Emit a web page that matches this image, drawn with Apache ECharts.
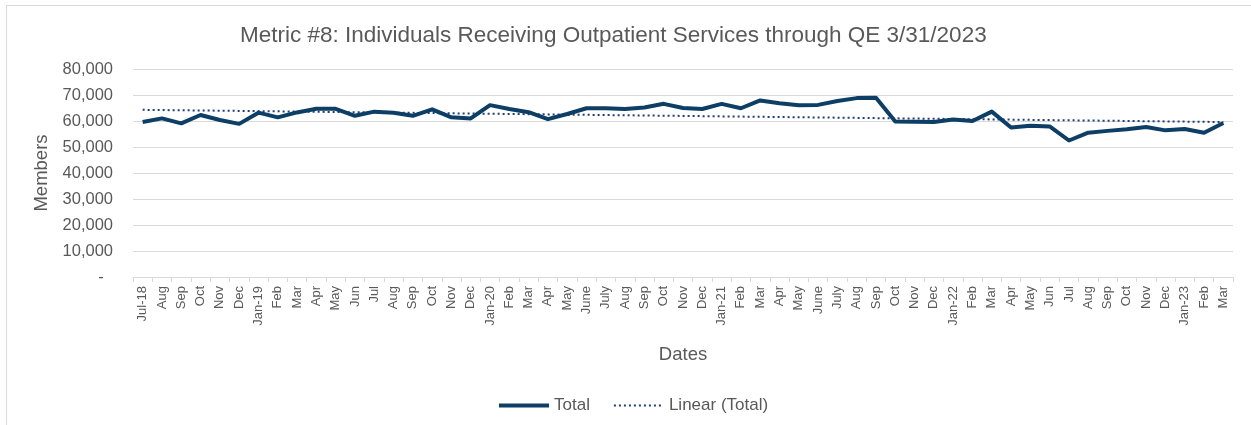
<!DOCTYPE html>
<html>
<head>
<meta charset="utf-8">
<script src="https://cdn.jsdelivr.net/npm/echarts@6/dist/echarts.min.js"></script>
<style>
  html, body { margin: 0; padding: 0; background: #fff; overflow: hidden; }
  #frame {
    position: absolute; left: 6px; top: 5px; width: 1300px; height: 480px;
    border: 1px solid #d9d9d9; box-sizing: border-box;
  }
  #main { position: absolute; left: 0; top: 0; width: 1251px; height: 425px; }
</style>
</head>
<body>
<div id="frame"></div>
<div id="main"></div>
<script>
var months = ["Jul-18", "Aug", "Sep", "Oct", "Nov", "Dec",
  "Jan-19", "Feb", "Mar", "Apr", "May", "Jun", "Jul", "Aug", "Sep", "Oct", "Nov", "Dec",
  "Jan-20", "Feb", "Mar", "Apr", "May", "June", "July", "Aug", "Sep", "Oct", "Nov", "Dec",
  "Jan-21", "Feb", "Mar", "Apr", "May", "June", "July", "Aug", "Sep", "Oct", "Nov", "Dec",
  "Jan-22", "Feb", "Mar", "Apr", "May", "Jun", "Jul", "Aug", "Sep", "Oct", "Nov", "Dec",
  "Jan-23", "Feb", "Mar"];

var total = [59600, 61000, 59100, 62300, 60400, 58900,
  63200, 61400, 63300, 64700, 64700, 62000, 63600, 63200, 62000, 64500, 61400, 61000,
  66100, 64600, 63400, 60700, 62700, 64900, 64900, 64600, 65200, 66600, 65000, 64600,
  66600, 64900, 67900, 66800, 66100, 66200, 67700, 68800, 68900, 59800, 59700, 59600,
  60600, 60000, 63600, 57500, 58200, 57900, 52500, 55500, 56200, 56800, 57700, 56400,
  56900, 55500, 59200];

// trend line ends (first and last month)
var trendStart = 64300;
var trendEnd = 59600;

var textColor = "#595959";
var font = "Liberation Sans, Arial, sans-serif";
var lineColor = "#0c3e66";
var trendColor = "#1f3d78";

var myChart = echarts.init(document.getElementById("main"));
var option = {
  animation: false,
  textStyle: { fontFamily: font, color: textColor },
  title: {
    text: "Metric #8: Individuals Receiving Outpatient Services through QE 3/31/2023",
    left: 235,
    top: 19,
    textStyle: { fontFamily: font, color: textColor, fontSize: 22.5, fontWeight: "normal" }
  },
  legend: {
    bottom: 6,
    left: 492,
    itemWidth: 50,
    itemHeight: 10,
    itemGap: 23,
    itemStyle: { color: "transparent", borderWidth: 0 },
    textStyle: { fontFamily: font, color: textColor, fontSize: 17 },
    data: [
      { name: "Total", lineStyle: { width: 4, color: lineColor } },
      { name: "Linear (Total)", lineStyle: { width: 2, color: trendColor, type: [2, 3] } }
    ]
  },
  grid: { left: 133, right: 18, top: 69, bottom: 148 },
  xAxis: {
    type: "category",
    data: months,
    name: "Dates",
    nameLocation: "middle",
    nameGap: 68,
    nameTextStyle: { fontFamily: font, color: textColor, fontSize: 18.5 },
    axisLine: { lineStyle: { color: "#d9d9d9" } },
    axisTick: { show: true, length: 5, interval: 0, lineStyle: { color: "#d9d9d9" } },
    axisLabel: { interval: 0, rotate: 90, fontSize: 13, color: textColor, fontFamily: font, margin: 9 },
    splitLine: { show: false }
  },
  yAxis: {
    type: "value",
    min: 0,
    max: 80000,
    interval: 10000,
    name: "Members",
    nameLocation: "middle",
    nameGap: 82,
    nameTextStyle: { fontFamily: font, color: textColor, fontSize: 18.5 },
    axisLine: { show: false },
    axisTick: { show: false },
    axisLabel: {
      fontSize: 16.5,
      color: textColor,
      fontFamily: font,
      margin: 20,
      formatter: function (v) {
        return v === 0 ? "-  " : v.toLocaleString("en-US");
      }
    },
    splitLine: { lineStyle: { color: "#d9d9d9", width: 1 } }
  },
  series: [
    {
      name: "Total",
      type: "line",
      data: total,
      symbol: "none",
      lineStyle: { color: lineColor, width: 4, join: "round" },
      itemStyle: { color: lineColor }
    },
    {
      name: "Linear (Total)",
      type: "line",
      data: [[0, trendStart], [months.length - 1, trendEnd]],
      symbol: "none",
      lineStyle: { color: trendColor, width: 2, type: [2, 3] },
      itemStyle: { color: trendColor },
      z: 1
    }
  ]
};
myChart.setOption(option);
</script>
</body>
</html>
